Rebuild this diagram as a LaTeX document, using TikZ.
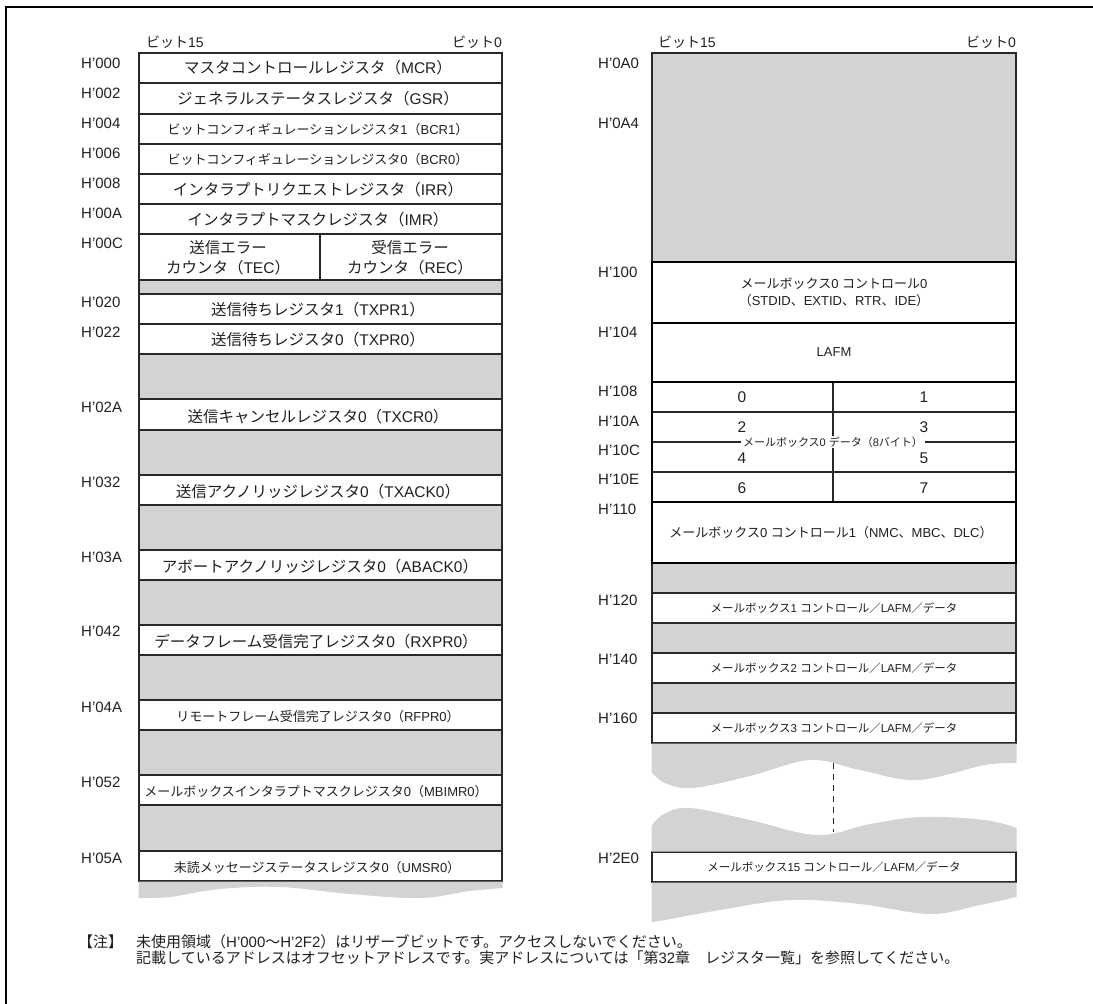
\documentclass[tikz,border=0pt]{standalone}
\usepackage{fontspec}
\setmainfont{Liberation Sans}
\newfontfamily\jp{Noto Sans CJK JP}
\newcommand\J[1]{{\jp #1}}
\definecolor{grayfill}{RGB}{209,211,212}
\definecolor{ink}{RGB}{35,31,32}
\definecolor{rulec}{RGB}{40,40,40}
\begin{document}
\begin{tikzpicture}[x=1pt,y=-1pt,
  lbl/.style={anchor=west, inner sep=0pt, font=\fontsize{15}{18}\selectfont, text=ink},
  hdr/.style={inner sep=0pt, font=\fontsize{14}{17}\selectfont, text=ink},
  big/.style={inner sep=0pt, font=\fontsize{15.5}{20}\selectfont, text=ink, align=center},
  small/.style={inner sep=0pt, font=\fontsize{13}{17}\selectfont, text=ink, align=center},
  mini/.style={inner sep=0pt, font=\fontsize{11.5}{14}\selectfont, text=ink},
  notefont/.style={inner sep=0pt, anchor=west, font=\fontsize{15}{16}\selectfont, text=ink},
  cell/.style={draw=rulec, fill=white, line width=1.1pt},
  gap/.style={draw=rulec, fill=grayfill, line width=1.1pt},
  wave/.style={fill=grayfill, draw=none},
  heavy/.style={draw=black, line width=2.1pt},
]
\useasboundingbox (0,0) rectangle (1093,1004);
% frame
\draw[line width=2.2pt] (6,1004) -- (6,7) -- (1093,7);

%================ LEFT TABLE =================
\foreach \t/\b in {53/83,83/114,114/144,144/174,174/204,204/234,234/280,294/324,324/354,399/430,475/505,550/580,625/655,700/730,775/805,851/881}
  \path[cell] (139,\t) rectangle (502,\b);
\foreach \t/\b in {280/294,354/399,430/475,505/550,580/625,655/700,730/775,805/851}
  \path[gap] (139,\t) rectangle (502,\b);
\draw[rulec, line width=1.1pt] (320,234) -- (320,280);
% wavy bottom
\path[wave] (138.5,881.6) -- (502.5,881.6) -- plot[smooth, tension=0.6] coordinates {(502.5,888) (470,891) (420,898) (350,894) (280,887) (220,889) (170,897) (138.5,898)} -- cycle;

\node[hdr, anchor=west] (lb15) at (146,42) {\J{ビット}15};
\node[hdr, anchor=east] (lb0) at (502,42) {\J{ビット}0};

\node[lbl] (a000) at (81,63) {H'000};
\node[lbl] (a002) at (81,93) {H'002};
\node[lbl] (a004) at (81,123) {H'004};
\node[lbl] (a006) at (81,153) {H'006};
\node[lbl] (a008) at (81,183) {H'008};
\node[lbl] (a00A) at (81,213) {H'00A};
\node[lbl] (a00C) at (81,243) {H'00C};
\node[lbl] (a020) at (81,302) {H'020};
\node[lbl] (a022) at (81,332) {H'022};
\node[lbl] (a02A) at (81,407) {H'02A};
\node[lbl] (a032) at (81,482) {H'032};
\node[lbl] (a03A) at (81,557) {H'03A};
\node[lbl] (a042) at (81,631) {H'042};
\node[lbl] (a04A) at (81,707) {H'04A};
\node[lbl] (a052) at (81,782) {H'052};
\node[lbl] (a05A) at (81,858) {H'05A};

\node[big] (mcr) at (318,68) {\J{マスタコントロールレジスタ（}MCR\J{）}};
\node[big] (gsr) at (318,99) {\J{ジェネラルステータスレジスタ（}GSR\J{）}};
\node[small] (bcr1) at (318,129.5) {\J{ビットコンフィギュレーションレジスタ}1\J{（}BCR1\J{）}};
\node[small] (bcr0) at (318,159.5) {\J{ビットコンフィギュレーションレジスタ}0\J{（}BCR0\J{）}};
\node[big] (irr) at (318,189.5) {\J{インタラプトリクエストレジスタ（}IRR\J{）}};
\node[big] (imr) at (318,219.5) {\J{インタラプトマスクレジスタ（}IMR\J{）}};
\node[big] (tec) at (228,257.5) {\J{送信エラー}\\\J{カウンタ（}TEC\J{）}};
\node[big] (rec) at (410,257.5) {\J{受信エラー}\\\J{カウンタ（}REC\J{）}};
\node[big] (txpr1) at (318,310) {\J{送信待ちレジスタ}1\J{（}TXPR1\J{）}};
\node[big] (txpr0) at (318,340) {\J{送信待ちレジスタ}0\J{（}TXPR0\J{）}};
\node[big] (txcr0) at (318,416.5) {\J{送信キャンセルレジスタ}0\J{（}TXCR0\J{）}};
\node[big] (txack0) at (318,492) {\J{送信アクノリッジレジスタ}0\J{（}TXACK0\J{）}};
\node[big] (aback0) at (320,567) {\J{アボートアクノリッジレジスタ}0\J{（}ABACK0\J{）}};
\node[big] (rxpr0) at (316,642) {\J{データフレーム受信完了レジスタ}0\J{（}RXPR0\J{）}};
\node[small] (rfpr0) at (318,717) {\J{リモートフレーム受信完了レジスタ}0\J{（}RFPR0\J{）}};
\node[small] (mbimr0) at (316,792) {\J{メールボックスインタラプトマスクレジスタ}0\J{（}MBIMR0\J{）}};
\node[small] (umsr0) at (317,868) {\J{未読メッセージステータスレジスタ}0\J{（}UMSR0\J{）}};

%================ RIGHT TABLE =================
\path[gap] (652,53) rectangle (1016,262);
\foreach \t/\b in {262/323,323/382,382/412,412/442,442/472,472/502,502/563,593/623,653/683,713/743,852/882}
  \path[cell] (652,\t) rectangle (1016,\b);
\foreach \t/\b in {563/593,623/653,683/713}
  \path[gap] (652,\t) rectangle (1016,\b);
\draw[rulec, line width=1.1pt] (833,382) -- (833,502);
\draw[heavy] (652,262) rectangle (1016,563);
\draw[heavy] (652,323) -- (1016,323);
\draw[heavy] (652,382) -- (1016,382);
\draw[heavy] (652,502) -- (1016,502);

% wavy gray below MB3
\path[wave] (651.5,743.6) -- (1016.5,743.6) -- plot[smooth, tension=0.6] coordinates {(1016.5,763) (985,765) (917,780) (860,770) (810,760) (750,776) (693,788) (665,783) (651.5,772)} -- cycle;
% wavy gray above MB15
\path[wave] (651.5,851.5) -- plot[smooth, tension=0.6] coordinates {(651.5,826) (664,814) (690,808) (750,820) (817,835) (870,824) (922,817) (985,820) (1016.5,828)} -- (1016.5,851.5) -- cycle;
% wavy gray below MB15
\path[wave] (651.5,882.6) -- (1016.5,882.6) -- plot[smooth, tension=0.6] coordinates {(1016.5,897) (980,905) (930,914) (860,904) (790,900) (720,910) (665,920) (651.5,922)} -- cycle;
\coordinate (dtop) at (833,763);
\coordinate (dbot) at (833,832);
\draw[rulec, line width=1pt, dash pattern=on 6pt off 5pt] (dtop) -- (dbot);

\node[hdr, anchor=west] (rb15) at (658,42) {\J{ビット}15};
\node[hdr, anchor=east] (rb0) at (1016,42) {\J{ビット}0};

\node[lbl] (a0A0) at (598,63) {H'0A0};
\node[lbl] (a0A4) at (598,123) {H'0A4};
\node[lbl] (a100) at (598,272) {H'100};
\node[lbl] (a104) at (598,332) {H'104};
\node[lbl] (a108) at (598,391) {H'108};
\node[lbl] (a10A) at (598,421) {H'10A};
\node[lbl] (a10C) at (598,450) {H'10C};
\node[lbl] (a10E) at (598,479) {H'10E};
\node[lbl] (a110) at (598,509) {H'110};
\node[lbl] (a120) at (598,600) {H'120};
\node[lbl] (a140) at (598,659) {H'140};
\node[lbl] (a160) at (598,718) {H'160};
\node[lbl] (a2E0) at (598,858) {H'2E0};

\node[small] (ctl0) at (834,292.5) {\J{メールボックス}0 \J{コントロール}0\\\J{（}STDID\J{、}EXTID\J{、}RTR\J{、}IDE\J{）}};
\node[small] (lafm) at (834,352.5) {LAFM};
\node[big] (d0) at (742,397.5) {0};
\node[big] (d1) at (924,397.5) {1};
\node[big] (d2) at (742,427.5) {2};
\node[big] (d3) at (924,427.5) {3};
\node[big] (d4) at (742,458) {4};
\node[big] (d5) at (924,458) {5};
\node[big] (d6) at (742,488) {6};
\node[big] (d7) at (924,488) {7};
\node[mini, fill=white, inner xsep=2pt, inner ysep=1pt, font=\fontsize{11}{13}\selectfont] (dlab) at (833,442) {\J{メールボックス}0 \J{データ（}8\J{バイト）}};
\node[small] (ctl1) at (831,533) {\J{メールボックス}0 \J{コントロール}1\J{（}NMC\J{、}MBC\J{、}DLC\J{）}};
\node[mini] (mb1) at (834,608) {\J{メールボックス}1 \J{コントロール／}LAFM\J{／データ}};
\node[mini] (mb2) at (834,668) {\J{メールボックス}2 \J{コントロール／}LAFM\J{／データ}};
\node[mini] (mb3) at (834,728) {\J{メールボックス}3 \J{コントロール／}LAFM\J{／データ}};
\node[mini] (mb15) at (834,867) {\J{メールボックス}15 \J{コントロール／}LAFM\J{／データ}};

%================ NOTE =================
\node[notefont] (nt) at (78,942) {\J{【注】}};
\node[notefont] (n1) at (136,942) {\J{未使用領域（}H'000\J{〜}H'2F2\J{）はリザーブビットです。アクセスしないでください。}};
\node[notefont] (n2) at (136,958) {\J{記載しているアドレスはオフセットアドレスです。実アドレスについては「第}32\J{章　レジスタ一覧」を参照してください。}};
\end{tikzpicture}
\end{document}
